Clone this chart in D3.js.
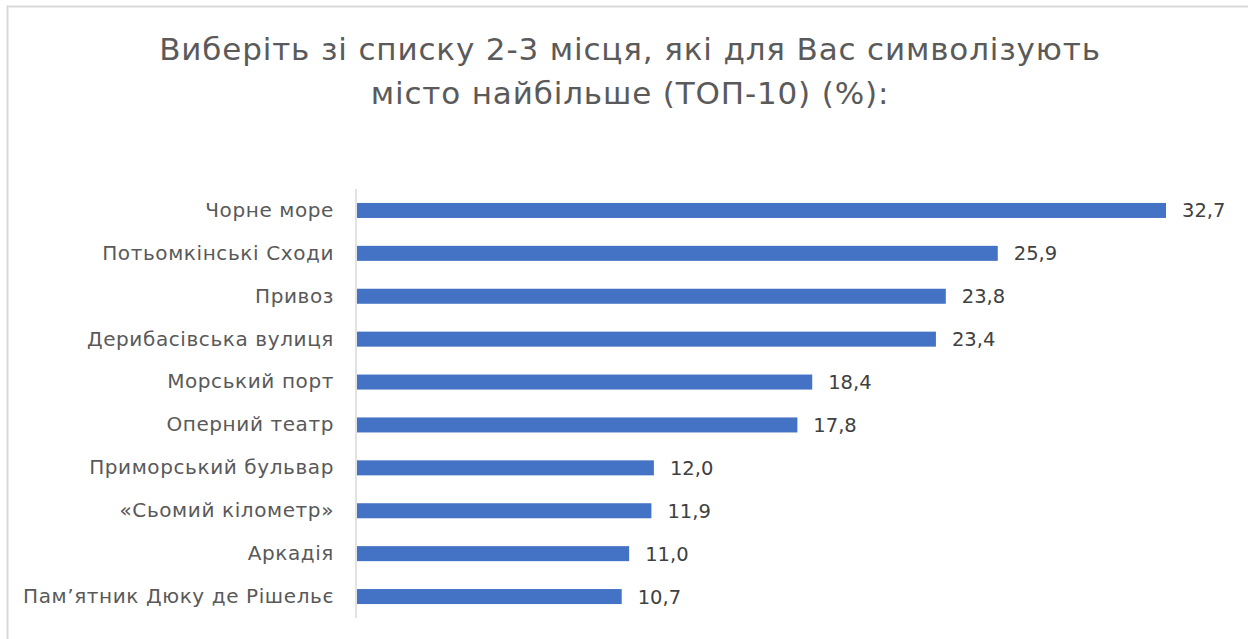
<!DOCTYPE html>
<html>
<head>
<meta charset="utf-8">
<script src="https://cdn.jsdelivr.net/npm/d3@7"></script>
<style>
  body { margin: 0; background: #fff; }
  svg { display: block; }
</style>
</head>
<body>
<div id="BarChart"></div>
<script>
var categories = ["Чорне море", "Потьомкінські Сходи", "Привоз", "Дерибасівська вулиця", "Морський порт",
    "Оперний театр", "Приморський бульвар", "«Сьомий кілометр»", "Аркадія", "Пам’ятник Дюку де Рішельє"];
var values = [32.7, 25.9, 23.8, 23.4, 18.4, 17.8, 12.0, 11.9, 11.0, 10.7];
var titleLines = ["Виберіть зі списку 2-3 місця, які для Вас символізують", "місто найбільше (ТОП-10) (%):"];

var data = categories.map(function (c, i) { return { name: c, value: values[i] }; });

var W = 1248, H = 639;
var font = "'DejaVu Sans', sans-serif";

var svg = d3.select("#BarChart")
    .append("svg")
    .attr("width", W)
    .attr("height", H);

// chart frame (cut by the window on right and bottom)
svg.append("rect")
    .attr("x", 7.5).attr("y", 6.5)
    .attr("width", 1400).attr("height", 800)
    .attr("fill", "none")
    .attr("stroke", "#d9d9d9")
    .attr("stroke-width", 2);

// title
svg.append("g")
    .selectAll("text")
    .data(titleLines)
    .enter()
    .append("text")
    .attr("x", 630)
    .attr("y", function (d, i) { return 60 + i * 44; })
    .attr("text-anchor", "middle")
    .attr("font-family", font)
    .attr("font-size", "31px")
    .attr("letter-spacing", "0.85px")
    .attr("fill", "#5a5a5a")
    .text(function (d) { return d; });

var xScale = d3.scaleLinear()
    .domain([0, 35])
    .range([357, 357 + 35 * 24.74]);

var yScale = d3.scaleBand()
    .domain(categories)
    .range([189, 618])
    .paddingInner(0.65)
    .paddingOuter(0.325);

svg.selectAll(".bar")
    .data(data)
    .enter()
    .append("rect")
    .attr("class", "bar")
    .attr("x", xScale(0))
    .attr("y", function (d) { return yScale(d.name); })
    .attr("width", function (d) { return xScale(d.value) - xScale(0); })
    .attr("height", yScale.bandwidth())
    .attr("fill", "#4472c4");

// value labels
svg.selectAll(".textlabel")
    .data(data)
    .enter()
    .append("text")
    .attr("class", "textlabel")
    .attr("x", function (d) { return xScale(d.value) + 16; })
    .attr("y", function (d) { return yScale(d.name) + yScale.bandwidth() / 2; })
    .attr("dy", "0.36em")
    .attr("font-family", font)
    .attr("font-size", "19.5px")
    .attr("fill", "#404040")
    .text(function (d) { return d3.format(".1f")(d.value).replace(".", ","); });

// category axis on the left
var yAxis = svg.append("g")
    .attr("transform", "translate(356,0)")
    .call(d3.axisLeft(yScale).tickSize(0).tickPadding(22));

yAxis.select(".domain")
    .attr("d", "M0,189V618")
    .attr("stroke", "#d9d9d9")
    .attr("stroke-width", 1.5);

yAxis.selectAll("text")
    .attr("font-family", font)
    .attr("font-size", "20px")
    .attr("letter-spacing", "0.6px")
    .attr("fill", "#595959");
</script>
</body>
</html>
